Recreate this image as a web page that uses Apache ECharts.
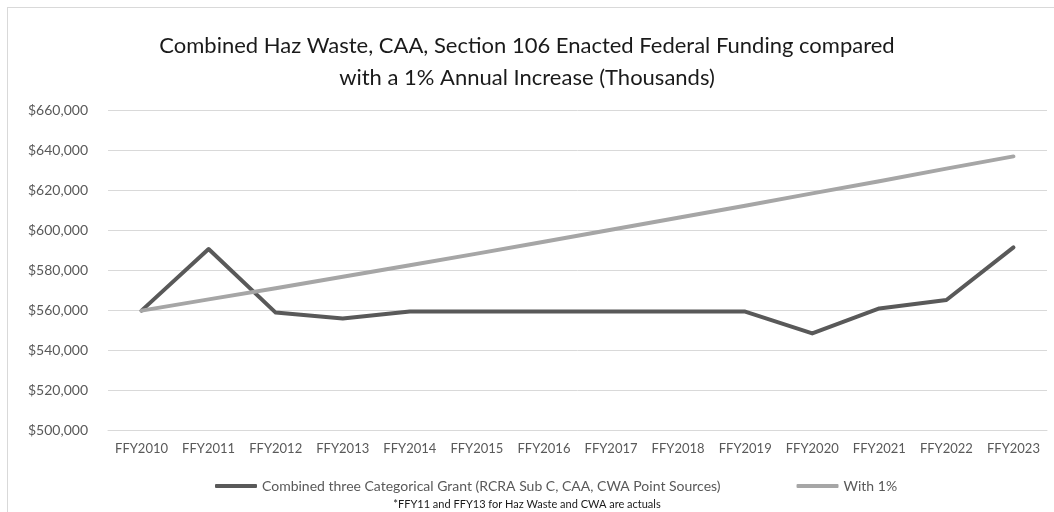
<!DOCTYPE html>
<html>
<head>
<meta charset="utf-8">
<script src="https://cdn.jsdelivr.net/npm/echarts@6/dist/echarts.min.js"></script>
<style>
	html, body {
		margin: 0;
		padding: 0;
		background: #ffffff;
	}
	.wrap {
		position: relative;
		width: 1054px;
		height: 512px;
		overflow: hidden;
	}
	.frame {
		position: absolute;
		left: 7px;
		top: 7px;
		width: 1060px;
		height: 520px;
		border: 1px solid #d9d9d9;
	}
	#chart {
		position: absolute;
		left: 0;
		top: 0;
		width: 1054px;
		height: 512px;
	}
</style>
</head>
<body>
<div class="wrap">
	<div class="frame"></div>
	<div id="chart"></div>
</div>
<script>
const years = ['FFY2010', 'FFY2011', 'FFY2012', 'FFY2013', 'FFY2014', 'FFY2015', 'FFY2016',
	'FFY2017', 'FFY2018', 'FFY2019', 'FFY2020', 'FFY2021', 'FFY2022', 'FFY2023'];

// enacted funding, thousands
const combined = [559700, 590500, 558700, 555800, 559200, 559200, 559200,
	559200, 559200, 559200, 548300, 560800, 565000, 591300];

// 1% growth line
const withOnePct = [559700, 565300, 570900, 576600, 582400, 588200, 594100,
	600100, 606100, 612100, 618300, 624400, 630700, 636800];

const seriesNames = ['Combined three Categorical Grant (RCRA Sub C, CAA, CWA Point Sources)', 'With 1%'];
const titleText = 'Combined Haz Waste, CAA, Section 106 Enacted Federal Funding compared\nwith a 1% Annual Increase (Thousands)';
const footnote = '*FFY11 and FFY13 for Haz Waste and CWA are actuals';

const FONT = 'Lato, "Open Sans", sans-serif';

function money(v) {
	return '$' + Number(v).toLocaleString('en-US');
}

const chart = echarts.init(document.getElementById('chart'), null, { renderer: 'canvas' });

chart.setOption({
	animation: false,
	backgroundColor: 'transparent',
	title: [
		{
			text: titleText,
			left: 'center',
			top: 25,
			textStyle: {
				fontFamily: FONT,
				fontSize: 22,
				fontWeight: 'normal',
				color: '#1a1a1a',
				lineHeight: 32,
			},
		},
		{
			text: footnote,
			left: 'center',
			top: 494,
			textStyle: {
				fontFamily: FONT,
				fontSize: 11,
				fontWeight: 'normal',
				color: '#1a1a1a',
			},
		},
	],
	legend: {
		top: 474,
		left: 210,
		itemGap: 76,
		itemWidth: 42,
		itemHeight: 4,
		icon: 'roundRect',
		textStyle: {
			fontFamily: FONT,
			fontSize: 14,
			color: '#595959',
		},
		data: seriesNames,
	},
	grid: {
		left: 108,
		right: 7,
		top: 110,
		bottom: 82,
		containLabel: false,
	},
	xAxis: {
		type: 'category',
		data: years,
		boundaryGap: true,
		axisLine: { lineStyle: { color: '#d9d9d9', width: 1 } },
		axisTick: { show: false },
		axisLabel: {
			fontFamily: FONT,
			fontSize: 13,
			color: '#595959',
			margin: 12,
			interval: 0,
		},
	},
	yAxis: {
		type: 'value',
		min: 500000,
		max: 660000,
		interval: 20000,
		axisLine: { show: false },
		axisTick: { show: false },
		axisLabel: {
			fontFamily: FONT,
			fontSize: 14,
			color: '#595959',
			margin: 20,
			formatter: (v) => money(v),
		},
		splitLine: { lineStyle: { color: '#d9d9d9', width: 1 } },
	},
	series: [
		{
			name: seriesNames[0],
			type: 'line',
			data: combined,
			showSymbol: false,
			symbol: 'none',
			lineStyle: { color: '#595959', width: 4, cap: 'round', join: 'round' },
			itemStyle: { color: '#595959' },
		},
		{
			name: seriesNames[1],
			type: 'line',
			data: withOnePct,
			showSymbol: false,
			symbol: 'none',
			lineStyle: { color: '#a6a6a6', width: 4, cap: 'round', join: 'round' },
			itemStyle: { color: '#a6a6a6' },
		},
	],
});
</script>
</body>
</html>
